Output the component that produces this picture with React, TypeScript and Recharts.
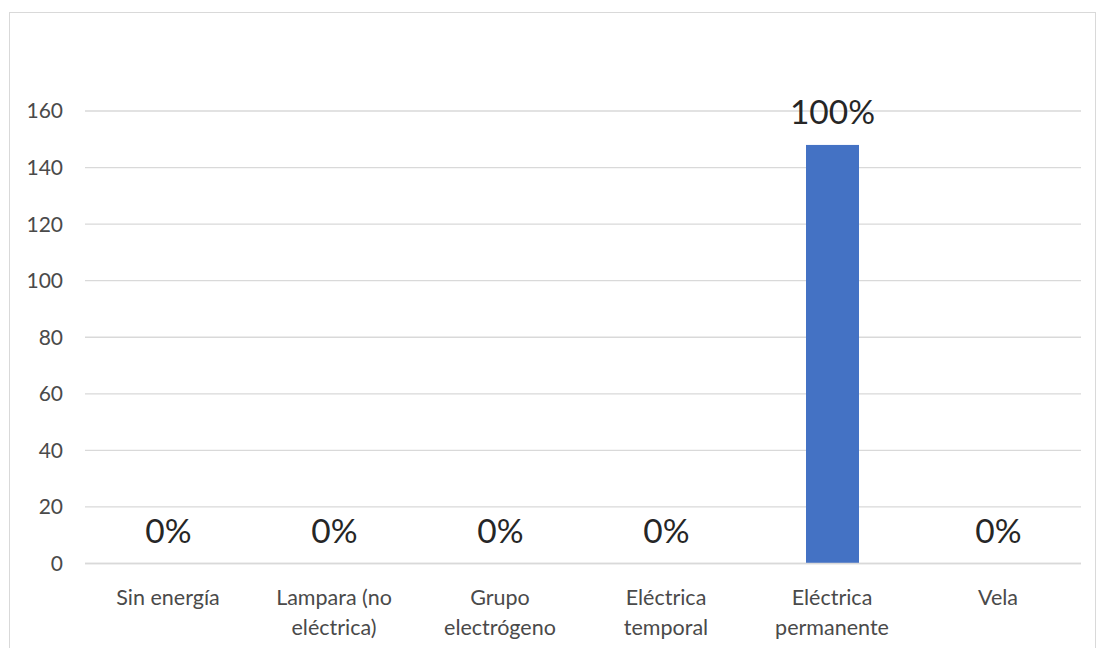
import React from "react";
import { BarChart, Bar, XAxis, YAxis, CartesianGrid } from "recharts";

const categories = [
  "Sin energía",
  "Lampara (no eléctrica)",
  "Grupo electrógeno",
  "Eléctrica temporal",
  "Eléctrica permanente",
  "Vela",
];
const tickLines = [
  ["Sin energía"],
  ["Lampara (no", "eléctrica)"],
  ["Grupo", "electrógeno"],
  ["Eléctrica", "temporal"],
  ["Eléctrica", "permanente"],
  ["Vela"],
];
const counts = [0, 0, 0, 0, 148, 0];
const percentLabels = ["0%", "0%", "0%", "0%", "100%", "0%"];
const yTicks = [0, 20, 40, 60, 80, 100, 120, 140, 160];

const data = categories.map((c, i) => ({
  name: c,
  value: counts[i],
  pct: percentLabels[i],
}));

const FONT = "Lato, 'Open Sans', sans-serif";

const XTick = (props: any) => {
  const { x, y, index } = props;
  const lines = tickLines[index] || [];
  return (
    <g>
      {lines.map((l, i) => (
        <text
          key={i}
          x={x}
          y={y + 33 + i * 30}
          textAnchor="middle"
          fill="#4a4a4a"
          fontSize={21.5}
          fontFamily={FONT}
        >
          {l}
        </text>
      ))}
    </g>
  );
};

const BarShape = (props: any) => {
  const { x, y, width, height, fill, payload } = props;
  const h = Math.max(0, height || 0);
  return (
    <g>
      {h > 0 && <rect x={x} y={y} width={width} height={h} fill={fill} />}
      <text
        x={x + width / 2}
        y={y - 21}
        textAnchor="middle"
        fill="#262626"
        fontSize={33.5}
        fontFamily={FONT}
      >
        {payload?.pct}
      </text>
    </g>
  );
};

export default function App() {
  return (
    <div
      style={{
        position: "absolute",
        left: 0,
        top: 0,
        width: 1099,
        height: 648,
        background: "#fff",
        overflow: "hidden",
      }}
    >
      <div
        style={{
          position: "absolute",
          left: 9,
          top: 12,
          width: 1087,
          height: 660,
          border: "1.5px solid #d9d9d9",
          boxSizing: "border-box",
        }}
      />
      <div style={{ position: "absolute", left: 0, top: 0 }}>
        <BarChart
          width={1099}
          height={648}
          data={data}
          margin={{ top: 111, right: 18, bottom: 0, left: 25 }}
        >
          <CartesianGrid vertical={false} stroke="#d9d9d9" strokeWidth={1.3} />
          <XAxis
            dataKey="name"
            axisLine={{ stroke: "#d9d9d9", strokeWidth: 1.3 }}
            tickLine={false}
            tick={<XTick />}
            interval={0}
            height={84.5}
          />
          <YAxis
            width={60}
            domain={[0, 160]}
            ticks={yTicks}
            axisLine={false}
            tickLine={false}
            tickSize={0}
            tickMargin={22}
            tick={{ fill: "#4a4a4a", fontSize: 21, fontFamily: FONT }}
          />
          <Bar
            dataKey="value"
            fill="#4472c4"
            barSize={53}
            isAnimationActive={false}
            shape={<BarShape />}
          />
        </BarChart>
      </div>
    </div>
  );
}
